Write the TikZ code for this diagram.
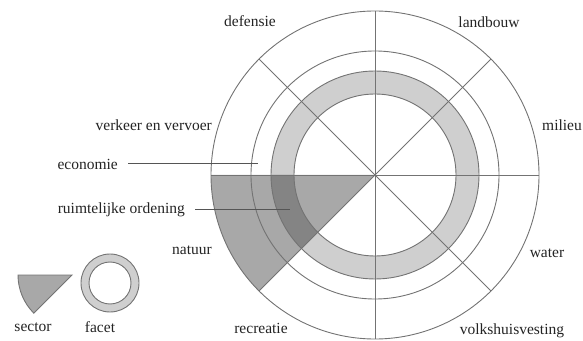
\documentclass[tikz,border=0pt]{standalone}
\usepackage{fontspec}
\setmainfont{Liberation Serif}
\usetikzlibrary{calc}
\definecolor{ringgray}{RGB}{207,207,207}
\definecolor{sectorgray}{RGB}{168,168,168}
\definecolor{overlapgray}{RGB}{132,132,132}
\definecolor{linegray}{RGB}{115,115,115}
\definecolor{leadgray}{RGB}{85,85,85}
\definecolor{txt}{RGB}{35,35,35}
\begin{document}
\begin{tikzpicture}[x=1pt,y=1pt,
  lbl/.style={font=\fontsize{15.5}{17}\selectfont, text=txt, inner sep=0pt},
  ln/.style={draw=linegray, line width=0.9pt},
  lead/.style={draw=leadgray, line width=1pt}]
\useasboundingbox (0,0) rectangle (583,340);
\coordinate (c) at (375,165);
% ring (facet)
\fill[ringgray, even odd rule] (c) circle[radius=104] (c) circle[radius=81];
% sector natuur
\fill[sectorgray] (c) -- ($(c)+(180:164)$) arc[start angle=180,end angle=225,radius=164] -- cycle;
% overlap
\fill[overlapgray] ($(c)+(180:104)$) arc[start angle=180,end angle=225,radius=104]
  -- ($(c)+(225:81)$) arc[start angle=225,end angle=180,radius=81] -- cycle;
% circles
\draw[ln] (c) circle[radius=164];
\draw[ln] (c) circle[radius=124];
\draw[ln] (c) circle[radius=104];
\draw[ln] (c) circle[radius=81];
% spokes
\foreach \a in {0,45,90,135}{
  \draw[ln] ($(c)+(\a:164)$) -- ($(c)+(\a+180:164)$);
}
% labels
\node[lbl] (def) at (250,319) {defensie};
\node[lbl] (lan) at (489,318) {landbouw};
\node[lbl, anchor=east] (ver) at (212,215) {verkeer en vervoer};
\node[lbl, anchor=west] (mil) at (542,215) {milieu};
\node[lbl, anchor=east] (eco) at (118,176) {economie};
\node[lbl, anchor=east] (ruo) at (185,130) {ruimtelijke ordening};
\node[lbl] (nat) at (192,90) {natuur};
\node[lbl] (wat) at (547,87) {water};
\node[lbl] (rec) at (261,12) {recreatie};
\node[lbl] (vol) at (512,9) {volkshuisvesting};
\node[lbl] (sec) at (33,13) {sector};
\node[lbl] (fac) at (100,13) {facet};
% leader lines
\coordinate (ecoEnd) at (258,176);
\coordinate (ruoEnd) at (290,130);
\draw[lead] ([xshift=10pt]eco.east) -- (ecoEnd);
\draw[lead] ([xshift=10pt]ruo.east) -- (ruoEnd);
% legend: sector
\coordinate (ls) at (72,65);
\fill[sectorgray] (ls) -- ($(ls)+(180:54)$) arc[start angle=180,end angle=225,radius=54] -- cycle;
\draw[ln] (ls) -- ($(ls)+(180:54)$) arc[start angle=180,end angle=225,radius=54] -- cycle;
% legend: facet
\coordinate (lf) at (110,57);
\fill[ringgray, even odd rule] (lf) circle[radius=29] (lf) circle[radius=21];
\draw[ln] (lf) circle[radius=29];
\draw[ln] (lf) circle[radius=21];
\end{tikzpicture}
\end{document}
